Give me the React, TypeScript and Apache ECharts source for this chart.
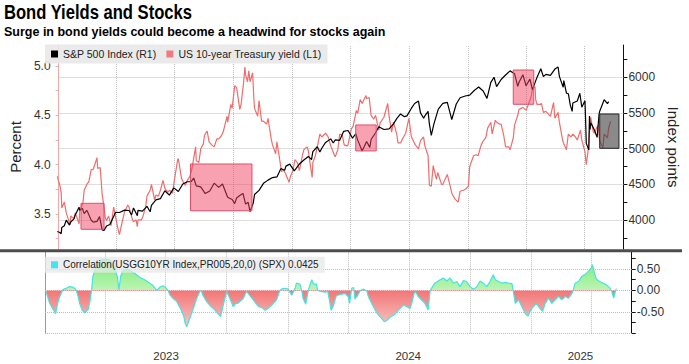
import React, { useEffect, useRef } from 'react';
import * as echarts from 'echarts';

// S&P 500 Index (right axis, index points)
const spx: [string, number][] = [
  ['2022-12-30', 3839], ['2023-01-03', 3824], ['2023-01-05', 3808], ['2023-01-06', 3895], ['2023-01-10', 3919],
  ['2023-01-13', 3999], ['2023-01-18', 3929], ['2023-01-20', 3972], ['2023-01-25', 4016], ['2023-01-27', 4070],
  ['2023-02-02', 4180], ['2023-02-03', 4136], ['2023-02-07', 4164], ['2023-02-10', 4090], ['2023-02-14', 4136],
  ['2023-02-17', 4079], ['2023-02-21', 3997], ['2023-02-24', 3970], ['2023-03-02', 3981], ['2023-03-06', 4048],
  ['2023-03-10', 3862], ['2023-03-13', 3855], ['2023-03-17', 3917], ['2023-03-22', 3937], ['2023-03-24', 3971],
  ['2023-03-31', 4109], ['2023-04-06', 4105], ['2023-04-14', 4138], ['2023-04-21', 4133], ['2023-04-25', 4071],
  ['2023-04-28', 4169], ['2023-05-04', 4061], ['2023-05-05', 4136], ['2023-05-12', 4124], ['2023-05-19', 4192],
  ['2023-05-24', 4115], ['2023-05-26', 4205], ['2023-06-02', 4282], ['2023-06-09', 4299], ['2023-06-16', 4410],
  ['2023-06-23', 4348], ['2023-06-30', 4450], ['2023-07-07', 4399], ['2023-07-14', 4505], ['2023-07-21', 4536],
  ['2023-07-27', 4537], ['2023-07-31', 4589], ['2023-08-04', 4478], ['2023-08-11', 4464], ['2023-08-18', 4370],
  ['2023-08-25', 4406], ['2023-09-01', 4516], ['2023-09-08', 4457], ['2023-09-14', 4505], ['2023-09-22', 4320],
  ['2023-09-29', 4288], ['2023-10-03', 4229], ['2023-10-06', 4309], ['2023-10-12', 4349], ['2023-10-16', 4373],
  ['2023-10-20', 4224], ['2023-10-24', 4248], ['2023-10-27', 4117], ['2023-11-01', 4238], ['2023-11-03', 4358],
  ['2023-11-10', 4415], ['2023-11-17', 4514], ['2023-11-24', 4559], ['2023-12-01', 4595], ['2023-12-08', 4604],
  ['2023-12-14', 4720], ['2023-12-20', 4698], ['2023-12-22', 4755], ['2023-12-28', 4783], ['2024-01-04', 4688],
  ['2024-01-12', 4784], ['2024-01-19', 4840], ['2024-01-26', 4891], ['2024-01-31', 4846], ['2024-02-02', 4959],
  ['2024-02-09', 5027], ['2024-02-13', 4953], ['2024-02-16', 5006], ['2024-02-22', 5087], ['2024-03-01', 5137],
  ['2024-03-05', 5079], ['2024-03-08', 5124], ['2024-03-15', 5117], ['2024-03-21', 5241], ['2024-03-28', 5254],
  ['2024-04-04', 5147], ['2024-04-09', 5209], ['2024-04-12', 5123], ['2024-04-19', 4967], ['2024-04-26', 5100],
  ['2024-05-01', 5018], ['2024-05-03', 5128], ['2024-05-10', 5223], ['2024-05-15', 5308], ['2024-05-23', 5268],
  ['2024-05-31', 5278], ['2024-06-07', 5347], ['2024-06-12', 5421], ['2024-06-18', 5487], ['2024-06-24', 5448],
  ['2024-06-28', 5460], ['2024-07-05', 5567], ['2024-07-10', 5633], ['2024-07-16', 5667], ['2024-07-19', 5505],
  ['2024-07-24', 5427], ['2024-07-26', 5459], ['2024-07-31', 5522], ['2024-08-02', 5346], ['2024-08-05', 5186],
  ['2024-08-09', 5344], ['2024-08-16', 5554], ['2024-08-23', 5634], ['2024-08-30', 5648], ['2024-09-06', 5408],
  ['2024-09-13', 5626], ['2024-09-19', 5713], ['2024-09-27', 5738], ['2024-10-04', 5751], ['2024-10-11', 5815],
  ['2024-10-18', 5865], ['2024-10-25', 5808], ['2024-10-31', 5705], ['2024-11-06', 5929], ['2024-11-11', 6001],
  ['2024-11-15', 5870], ['2024-11-22', 5969], ['2024-11-29', 6032], ['2024-12-06', 6090], ['2024-12-13', 6051],
  ['2024-12-18', 5872], ['2024-12-20', 5931], ['2024-12-26', 6037], ['2024-12-31', 5882], ['2025-01-06', 5975],
  ['2025-01-10', 5827], ['2025-01-15', 5950], ['2025-01-17', 5997], ['2025-01-23', 6119], ['2025-01-27', 6012],
  ['2025-01-31', 6041], ['2025-02-07', 6026], ['2025-02-14', 6115], ['2025-02-19', 6144], ['2025-02-21', 6013],
  ['2025-02-27', 5861], ['2025-02-28', 5955], ['2025-03-04', 5778], ['2025-03-07', 5770], ['2025-03-10', 5614],
  ['2025-03-13', 5522], ['2025-03-14', 5639], ['2025-03-21', 5668], ['2025-03-25', 5777], ['2025-03-28', 5581],
  ['2025-04-02', 5671], ['2025-04-03', 5397], ['2025-04-04', 5074], ['2025-04-08', 4983], ['2025-04-09', 5457],
  ['2025-04-10', 5268], ['2025-04-11', 5363], ['2025-04-16', 5276], ['2025-04-21', 5158], ['2025-04-24', 5485],
  ['2025-04-25', 5525], ['2025-05-02', 5686], ['2025-05-07', 5631], ['2025-05-09', 5660],
];

// US 10-year Treasury yield (left axis, percent)
const ust10y: [string, number][] = [
  ['2022-12-30', 3.88], ['2023-01-03', 3.79], ['2023-01-05', 3.72], ['2023-01-06', 3.56], ['2023-01-10', 3.62],
  ['2023-01-13', 3.51], ['2023-01-19', 3.39], ['2023-01-20', 3.48], ['2023-01-25', 3.45], ['2023-01-27', 3.51],
  ['2023-02-02', 3.40], ['2023-02-03', 3.53], ['2023-02-08', 3.61], ['2023-02-10', 3.74], ['2023-02-15', 3.81],
  ['2023-02-17', 3.82], ['2023-02-21', 3.95], ['2023-02-24', 3.95], ['2023-03-02', 4.07], ['2023-03-03', 3.96],
  ['2023-03-07', 3.97], ['2023-03-10', 3.70], ['2023-03-13', 3.57], ['2023-03-15', 3.46], ['2023-03-17', 3.43],
  ['2023-03-20', 3.48], ['2023-03-24', 3.38], ['2023-03-28', 3.57], ['2023-03-31', 3.47], ['2023-04-04', 3.34],
  ['2023-04-06', 3.29], ['2023-04-10', 3.41], ['2023-04-14', 3.52], ['2023-04-19', 3.59], ['2023-04-21', 3.57],
  ['2023-04-26', 3.45], ['2023-04-28', 3.42], ['2023-05-02', 3.44], ['2023-05-04', 3.37], ['2023-05-05', 3.44],
  ['2023-05-10', 3.44], ['2023-05-12', 3.46], ['2023-05-17', 3.57], ['2023-05-19', 3.68], ['2023-05-24', 3.74],
  ['2023-05-26', 3.80], ['2023-05-31', 3.64], ['2023-06-02', 3.69], ['2023-06-06', 3.68], ['2023-06-09', 3.74],
  ['2023-06-13', 3.84], ['2023-06-16', 3.76], ['2023-06-21', 3.72], ['2023-06-23', 3.74], ['2023-06-28', 3.71],
  ['2023-06-30', 3.81], ['2023-07-06', 4.05], ['2023-07-07', 4.06], ['2023-07-12', 3.86], ['2023-07-14', 3.83],
  ['2023-07-18', 3.79], ['2023-07-21', 3.84], ['2023-07-25', 3.88], ['2023-07-28', 3.95], ['2023-08-03', 4.18],
  ['2023-08-04', 4.04], ['2023-08-08', 4.02], ['2023-08-11', 4.16], ['2023-08-15', 4.21], ['2023-08-17', 4.30],
  ['2023-08-21', 4.34], ['2023-08-24', 4.23], ['2023-08-28', 4.20], ['2023-09-01', 4.18], ['2023-09-05', 4.26],
  ['2023-09-08', 4.26], ['2023-09-12', 4.29], ['2023-09-15', 4.33], ['2023-09-21', 4.49], ['2023-09-22', 4.43],
  ['2023-09-27', 4.61], ['2023-09-29', 4.57], ['2023-10-03', 4.80], ['2023-10-06', 4.78], ['2023-10-11', 4.56],
  ['2023-10-13', 4.61], ['2023-10-17', 4.84], ['2023-10-19', 4.99], ['2023-10-20', 4.91], ['2023-10-23', 4.84],
  ['2023-10-25', 4.95], ['2023-10-27', 4.84], ['2023-10-31', 4.93], ['2023-11-02', 4.66], ['2023-11-03', 4.57],
  ['2023-11-08', 4.49], ['2023-11-10', 4.65], ['2023-11-14', 4.44], ['2023-11-17', 4.44], ['2023-11-22', 4.41],
  ['2023-11-24', 4.47], ['2023-11-29', 4.26], ['2023-12-01', 4.20], ['2023-12-06', 4.11], ['2023-12-08', 4.23],
  ['2023-12-13', 4.02], ['2023-12-15', 3.93], ['2023-12-19', 3.94], ['2023-12-22', 3.90], ['2023-12-27', 3.82],
  ['2023-12-29', 3.88], ['2024-01-02', 3.94], ['2024-01-05', 4.05], ['2024-01-09', 4.02], ['2024-01-12', 3.94],
  ['2024-01-17', 4.10], ['2024-01-19', 4.15], ['2024-01-24', 4.18], ['2024-01-26', 4.14], ['2024-01-31', 3.91],
  ['2024-02-01', 3.87], ['2024-02-02', 4.02], ['2024-02-06', 4.09], ['2024-02-09', 4.18], ['2024-02-13', 4.31],
  ['2024-02-16', 4.28], ['2024-02-22', 4.32], ['2024-02-26', 4.28], ['2024-03-01', 4.19], ['2024-03-07', 4.09],
  ['2024-03-08', 4.08], ['2024-03-12', 4.15], ['2024-03-15', 4.31], ['2024-03-19', 4.30], ['2024-03-22', 4.20],
  ['2024-03-27', 4.19], ['2024-03-28', 4.20], ['2024-04-02', 4.36], ['2024-04-05', 4.39], ['2024-04-10', 4.55],
  ['2024-04-12', 4.52], ['2024-04-16', 4.66], ['2024-04-19', 4.62], ['2024-04-25', 4.70], ['2024-04-26', 4.67],
  ['2024-04-30', 4.68], ['2024-05-03', 4.50], ['2024-05-07', 4.46], ['2024-05-10', 4.50], ['2024-05-15', 4.35],
  ['2024-05-17', 4.42], ['2024-05-23', 4.48], ['2024-05-29', 4.62], ['2024-05-31', 4.50], ['2024-06-04', 4.33],
  ['2024-06-07', 4.43], ['2024-06-12', 4.31], ['2024-06-14', 4.22], ['2024-06-18', 4.22], ['2024-06-21', 4.26],
  ['2024-06-26', 4.32], ['2024-07-01', 4.47], ['2024-07-05', 4.28], ['2024-07-11', 4.20], ['2024-07-16', 4.16],
  ['2024-07-19', 4.24], ['2024-07-24', 4.28], ['2024-07-26', 4.19], ['2024-07-31', 4.09], ['2024-08-02', 3.79],
  ['2024-08-05', 3.78], ['2024-08-08', 3.99], ['2024-08-13', 3.85], ['2024-08-15', 3.92], ['2024-08-21', 3.80],
  ['2024-08-23', 3.80], ['2024-08-30', 3.90], ['2024-09-04', 3.77], ['2024-09-06', 3.71], ['2024-09-11', 3.65],
  ['2024-09-16', 3.62], ['2024-09-19', 3.73], ['2024-09-24', 3.74], ['2024-09-27', 3.75], ['2024-10-02', 3.78],
  ['2024-10-04', 3.98], ['2024-10-10', 4.09], ['2024-10-14', 4.10], ['2024-10-17', 4.09], ['2024-10-22', 4.20],
  ['2024-10-25', 4.24], ['2024-10-29', 4.27], ['2024-11-01', 4.37], ['2024-11-06', 4.43], ['2024-11-08', 4.31],
  ['2024-11-13', 4.45], ['2024-11-15', 4.43], ['2024-11-20', 4.41], ['2024-11-22', 4.41], ['2024-11-26', 4.30],
  ['2024-11-29', 4.18], ['2024-12-04', 4.18], ['2024-12-06', 4.15], ['2024-12-11', 4.27], ['2024-12-13', 4.40],
  ['2024-12-18', 4.50], ['2024-12-20', 4.56], ['2024-12-26', 4.58], ['2024-12-31', 4.55], ['2025-01-03', 4.60],
  ['2025-01-08', 4.69], ['2025-01-10', 4.77], ['2025-01-14', 4.79], ['2025-01-15', 4.66], ['2025-01-17', 4.61],
  ['2025-01-22', 4.61], ['2025-01-24', 4.62], ['2025-01-27', 4.53], ['2025-01-31', 4.54], ['2025-02-04', 4.51],
  ['2025-02-07', 4.49], ['2025-02-12', 4.63], ['2025-02-14', 4.47], ['2025-02-19', 4.53], ['2025-02-21', 4.43],
  ['2025-02-26', 4.25], ['2025-02-28', 4.21], ['2025-03-04', 4.15], ['2025-03-07', 4.31], ['2025-03-11', 4.28],
  ['2025-03-14', 4.31], ['2025-03-18', 4.28], ['2025-03-21', 4.25], ['2025-03-26', 4.35], ['2025-03-28', 4.25],
  ['2025-04-02', 4.13], ['2025-04-04', 4.00], ['2025-04-07', 4.15], ['2025-04-09', 4.34], ['2025-04-11', 4.48],
  ['2025-04-15', 4.33], ['2025-04-17', 4.32], ['2025-04-22', 4.40], ['2025-04-25', 4.24], ['2025-04-30', 4.17],
  ['2025-05-02', 4.31], ['2025-05-07', 4.27], ['2025-05-09', 4.37], ['2025-05-12', 4.44],
];

// 20-day correlation (bottom panel)
const correlation: [string, number][] = [
  ['2023-01-03', -0.05], ['2023-01-08', -0.30], ['2023-01-13', -0.44], ['2023-01-17', -0.54], ['2023-01-20', -0.30],
  ['2023-01-23', -0.15], ['2023-01-26', -0.05], ['2023-01-28', 0.02], ['2023-02-02', 0.05], ['2023-02-07', 0.09],
  ['2023-02-12', 0.08], ['2023-02-16', 0.03], ['2023-02-17', 0.0], ['2023-02-20', -0.15], ['2023-02-22', -0.30],
  ['2023-02-26', -0.46], ['2023-03-02', -0.52], ['2023-03-07', -0.44], ['2023-03-09', -0.30], ['2023-03-12', 0.0],
  ['2023-03-14', 0.33], ['2023-03-17', 0.48], ['2023-03-22', 0.62], ['2023-03-26', 0.72], ['2023-04-03', 0.74],
  ['2023-04-10', 0.70], ['2023-04-16', 0.55], ['2023-04-20', 0.30], ['2023-04-22', 0.02], ['2023-04-25', 0.35],
  ['2023-04-28', 0.46], ['2023-05-04', 0.50], ['2023-05-10', 0.45], ['2023-05-16', 0.40], ['2023-05-24', 0.30],
  ['2023-05-31', 0.25], ['2023-06-08', 0.16], ['2023-06-12', 0.12], ['2023-06-18', 0.0], ['2023-06-23', 0.08],
  ['2023-06-28', 0.11], ['2023-07-02', 0.05], ['2023-07-05', 0.0], ['2023-07-08', -0.11], ['2023-07-12', -0.18],
  ['2023-07-18', -0.26], ['2023-07-21', -0.35], ['2023-07-25', -0.46], ['2023-07-29', -0.62], ['2023-07-30', -0.73],
  ['2023-08-02', -0.85], ['2023-08-06', -0.68], ['2023-08-12', -0.42], ['2023-08-17', -0.19], ['2023-08-22', -0.02],
  ['2023-08-24', 0.0], ['2023-08-26', -0.10], ['2023-09-01', -0.26], ['2023-09-06', -0.35], ['2023-09-11', -0.42],
  ['2023-09-18', -0.54], ['2023-09-22', -0.61], ['2023-09-26', -0.34], ['2023-10-01', -0.02], ['2023-10-06', -0.19],
  ['2023-10-11', -0.38], ['2023-10-15', -0.30], ['2023-10-18', -0.30], ['2023-10-26', -0.19], ['2023-10-31', -0.02],
  ['2023-11-05', -0.12], ['2023-11-10', -0.22], ['2023-11-18', -0.38], ['2023-11-23', -0.40], ['2023-11-28', -0.46],
  ['2023-12-02', -0.42], ['2023-12-08', -0.34], ['2023-12-15', -0.22], ['2023-12-20', 0.0], ['2023-12-25', 0.05],
  ['2024-01-01', 0.04], ['2024-01-07', -0.11], ['2024-01-12', 0.05], ['2024-01-14', 0.17], ['2024-01-19', 0.15],
  ['2024-01-22', 0.0], ['2024-01-24', -0.19], ['2024-01-28', -0.32], ['2024-02-01', 0.02], ['2024-02-06', 0.25],
  ['2024-02-09', 0.15], ['2024-02-13', 0.15], ['2024-02-15', 0.0], ['2024-02-19', -0.02], ['2024-02-26', -0.04],
  ['2024-03-01', -0.02], ['2024-03-04', -0.26], ['2024-03-06', -0.46], ['2024-03-09', -0.38], ['2024-03-14', -0.12],
  ['2024-03-19', -0.10], ['2024-03-27', -0.07], ['2024-04-01', -0.15], ['2024-04-03', -0.30], ['2024-04-06', 0.05],
  ['2024-04-09', 0.07], ['2024-04-11', -0.20], ['2024-04-14', -0.14], ['2024-04-19', 0.0], ['2024-04-24', 0.03],
  ['2024-04-29', -0.02], ['2024-05-01', -0.14], ['2024-05-06', -0.30], ['2024-05-11', -0.45], ['2024-05-16', -0.57],
  ['2024-05-21', -0.65], ['2024-05-25', -0.73], ['2024-05-29', -0.70], ['2024-06-03', -0.62], ['2024-06-08', -0.58],
  ['2024-06-13', -0.50], ['2024-06-18', -0.42], ['2024-06-23', -0.34], ['2024-06-28', -0.38], ['2024-07-03', -0.42],
  ['2024-07-06', -0.26], ['2024-07-09', -0.06], ['2024-07-11', -0.03], ['2024-07-15', -0.14], ['2024-07-20', -0.22],
  ['2024-07-25', -0.30], ['2024-07-30', -0.45], ['2024-08-02', 0.0], ['2024-08-04', 0.05], ['2024-08-09', 0.17],
  ['2024-08-17', 0.25], ['2024-08-22', 0.29], ['2024-08-27', 0.22], ['2024-09-01', 0.29], ['2024-09-06', 0.17],
  ['2024-09-11', 0.21], ['2024-09-16', 0.09], ['2024-09-21', 0.23], ['2024-09-26', 0.21], ['2024-10-01', 0.09],
  ['2024-10-06', 0.03], ['2024-10-11', 0.08], ['2024-10-16', 0.22], ['2024-10-21', 0.17], ['2024-10-26', 0.09],
  ['2024-10-31', 0.21], ['2024-11-05', 0.37], ['2024-11-08', 0.25], ['2024-11-13', 0.21], ['2024-11-18', 0.17],
  ['2024-11-23', 0.19], ['2024-11-28', 0.17], ['2024-12-03', 0.16], ['2024-12-05', -0.02], ['2024-12-08', -0.30],
  ['2024-12-13', -0.22], ['2024-12-18', -0.38], ['2024-12-23', -0.54], ['2024-12-27', -0.60], ['2024-12-31', -0.46],
  ['2025-01-04', -0.38], ['2025-01-09', -0.30], ['2025-01-14', -0.42], ['2025-01-18', -0.49], ['2025-01-22', -0.30],
  ['2025-01-27', -0.18], ['2025-02-01', -0.30], ['2025-02-06', -0.22], ['2025-02-11', -0.14], ['2025-02-16', -0.22],
  ['2025-02-21', -0.14], ['2025-02-26', -0.18], ['2025-03-02', -0.10], ['2025-03-05', 0.0], ['2025-03-08', 0.17],
  ['2025-03-13', 0.21], ['2025-03-18', 0.33], ['2025-03-23', 0.37], ['2025-03-28', 0.45], ['2025-04-01', 0.52],
  ['2025-04-03', 0.60], ['2025-04-06', 0.41], ['2025-04-09', 0.26], ['2025-04-14', 0.21], ['2025-04-19', 0.17],
  ['2025-04-24', 0.13], ['2025-04-29', 0.06], ['2025-05-02', -0.02], ['2025-05-05', -0.18], ['2025-05-07', -0.05],
  ['2025-05-09', 0.0425],
];

// Highlight boxes drawn on the S&P scale
const boxes = [
  { from: '2023-02-05', to: '2023-03-13', low: 3870, high: 4234, tone: 'pink' },
  { from: '2023-07-26', to: '2023-10-30', low: 4130, high: 4785, tone: 'pink' },
  { from: '2024-04-09', to: '2024-05-11', low: 4968, high: 5332, tone: 'pink' },
  { from: '2024-12-11', to: '2025-01-12', low: 5622, high: 6102, tone: 'pink' },
  { from: '2025-04-25', to: '2025-05-25', low: 5005, high: 5486, tone: 'gray' },
];

const quarterLines = ['2023-04-01', '2023-07-01', '2023-10-01', '2024-01-01', '2024-04-01', '2024-07-01', '2024-10-01', '2025-01-01', '2025-04-01'];
const yearLabels = [
  { at: '2023-07-02', text: '2023' },
  { at: '2024-06-30', text: '2024' },
  { at: '2025-03-16', text: '2025' },
];
const yieldTicks = [3.25, 3.5, 3.75, 4, 4.25, 4.5, 4.75, 5];
const yieldLabels = [3.5, 4, 4.5, 5];
const spxTicks = [3750, 4000, 4250, 4500, 4750, 5000, 5250, 5500, 5750, 6000, 6250];
const spxLabels = [4000, 4500, 5000, 5500, 6000];
const corrTicks = [-1, -0.75, -0.5, -0.25, 0, 0.25, 0.5, 0.75];
const corrLabels = [-0.5, 0, 0.5];
const corrGridLines = [-1, -0.5, 0, 0.5];

const SPX_NAME = 'S&P 500 Index (R1)';
const UST_NAME = 'US 10-year Treasury yield (L1)';
const CORR_NAME = 'Correlation(USGG10YR Index,PR005,20,0) (SPX) 0.0425';

const FONT = '"Liberation Sans", Arial, sans-serif';

const ts = (s: string) => new Date(s + 'T00:00:00').getTime();
const toPoints = (rows: [string, number][]) => rows.map(([d, v]) => [ts(d), v]);

const X_MIN = ts('2023-01-01');
const X_MAX = ts('2025-06-01');

export default function App() {
  const ref = useRef<HTMLDivElement>(null);

  useEffect(() => {
    document.body.style.margin = '0';
    if (!ref.current) return;
    const chart = echarts.init(ref.current, undefined, { renderer: 'svg' });

    const gridLine = { color: '#bdbdbd', type: 'dotted' as const, width: 1 };
    const markGrid = (items: any[]) => ({
      silent: true,
      symbol: ['none', 'none'],
      z: 1,
      label: { show: false },
      emphasis: { disabled: true },
      lineStyle: gridLine,
      data: items,
    });

    const option: any = {
      animation: false,
      backgroundColor: '#fff',
      textStyle: { fontFamily: FONT },
      graphic: [
        {
          type: 'text', x: 4, y: 12, z: 10, scaleX: 0.83,
          style: { text: 'Bond Yields and Stocks', fontFamily: FONT, fontSize: 20, fontWeight: 'bold', fill: '#000', verticalAlign: 'middle' },
        },
        {
          type: 'text', x: 4, y: 31.5, z: 10,
          style: { text: 'Surge in bond yields could become a headwind for stocks again', fontFamily: FONT, fontSize: 12.5, fontWeight: 'bold', fill: '#000', verticalAlign: 'middle' },
        },
        {
          type: 'rect', z: 10, silent: true,
          shape: { x: 0, y: 249.3, width: 682, height: 3 },
          style: { fill: '#4d4d4d' },
        },
      ],
      legend: [
        {
          data: [SPX_NAME, UST_NAME],
          left: 45, top: 44.5, orient: 'horizontal',
          backgroundColor: 'rgba(232,232,232,0.92)',
          padding: [4, 6, 4, 6], itemGap: 10, itemWidth: 7, itemHeight: 7,
          icon: 'rect', selectedMode: false,
          textStyle: { fontFamily: FONT, fontSize: 10.5, color: '#222' },
        },
        {
          data: [CORR_NAME],
          left: 45, top: 256.8, orient: 'horizontal',
          backgroundColor: 'rgba(232,232,232,0.75)',
          padding: [3, 6, 3, 6], itemWidth: 7, itemHeight: 7,
          icon: 'rect', selectedMode: false,
          textStyle: { fontFamily: FONT, fontSize: 10, color: '#222' },
        },
      ],
      grid: [
        { left: 45, right: 57.3, top: 45, height: 204 },
        { left: 45, right: 57.3, top: 251.9, height: 81.4 },
      ],
      xAxis: [
        {
          type: 'value', gridIndex: 0, min: X_MIN, max: X_MAX,
          axisLine: { show: false }, axisTick: { show: false }, axisLabel: { show: false }, splitLine: { show: false },
        },
        {
          type: 'value', gridIndex: 1, min: X_MIN, max: X_MAX,
          axisLine: { show: false }, axisTick: { show: false }, splitLine: { show: false },
          axisLabel: {
            customValues: yearLabels.map((y) => ts(y.at)),
            formatter: (v: number) => {
              const hit = yearLabels.find((y) => Math.abs(ts(y.at) - v) < 86400000 * 2);
              return hit ? hit.text : '';
            },
            margin: 17, fontSize: 11.5, color: '#333', fontFamily: FONT,
          },
        },
      ],
      yAxis: [
        {
          type: 'value', gridIndex: 0, position: 'left', min: 3.144, max: 5.213,
          axisLine: { show: true, lineStyle: { color: '#f3a7a7', width: 1 } },
          axisTick: { show: true, customValues: yieldTicks, length: 3, lineStyle: { color: '#f3a7a7' } },
          axisLabel: { customValues: yieldLabels, formatter: (v: number) => v.toFixed(1), color: '#333', fontSize: 12, margin: 8, fontFamily: FONT },
          splitLine: { show: false },
          name: 'Percent', nameLocation: 'middle', nameGap: 35, nameRotate: 90,
          nameTextStyle: { fontSize: 15, color: '#222', fontFamily: FONT },
        },
        {
          type: 'value', gridIndex: 0, position: 'right', min: 3593.6, max: 6452.7,
          axisLine: { show: true, lineStyle: { color: '#111', width: 1 } },
          axisTick: { show: true, customValues: spxTicks, length: 4, lineStyle: { color: '#111' } },
          axisLabel: { customValues: spxLabels, formatter: (v: number) => String(Math.round(v)), color: '#333', fontSize: 12, margin: 5, fontFamily: FONT },
          splitLine: { show: false },
          name: 'Index points', nameLocation: 'middle', nameGap: 37, nameRotate: -90,
          nameTextStyle: { fontSize: 15, color: '#222', fontFamily: FONT },
        },
        {
          type: 'value', gridIndex: 1, position: 'right', min: -1, max: 0.9,
          axisLine: { show: true, lineStyle: { color: '#111', width: 1 } },
          axisTick: { show: true, customValues: corrTicks, length: 4, lineStyle: { color: '#111' } },
          axisLabel: { customValues: corrLabels, formatter: (v: number) => v.toFixed(2), color: '#333', fontSize: 12, margin: 5, fontFamily: FONT },
          splitLine: { show: false },
        },
        {
          type: 'value', gridIndex: 1, position: 'left', min: -1, max: 0.9,
          axisLine: { show: true, lineStyle: { color: '#9a9a9a', width: 1 } },
          axisTick: { show: false }, axisLabel: { show: false }, splitLine: { show: false },
        },
      ],
      series: [
        {
          name: SPX_NAME, type: 'line', xAxisIndex: 0, yAxisIndex: 1,
          data: toPoints(spx), symbol: 'none', showSymbol: false, z: 3,
          lineStyle: { color: '#000', width: 1.2 }, itemStyle: { color: '#000' },
          markLine: markGrid(spxLabels.map((v) => ({ yAxis: v }))),
          markArea: {
            silent: true, z: 6,
            emphasis: { disabled: true },
            data: boxes.map((b) => [
              {
                xAxis: ts(b.from), yAxis: b.high,
                itemStyle: b.tone === 'pink'
                  ? { color: 'rgba(241,70,100,0.5)', borderColor: '#de4f6c', borderWidth: 1 }
                  : { color: 'rgba(60,60,60,0.6)', borderColor: '#222', borderWidth: 1 },
              },
              { xAxis: ts(b.to), yAxis: b.low },
            ]),
          },
        },
        {
          name: UST_NAME, type: 'line', xAxisIndex: 0, yAxisIndex: 0,
          data: toPoints(ust10y), symbol: 'none', showSymbol: false, z: 2,
          lineStyle: { color: '#ee6d6d', width: 1.2 }, itemStyle: { color: '#f07a84' },
          markLine: markGrid(quarterLines.map((d) => ({ xAxis: ts(d) }))),
        },
        {
          name: CORR_NAME, type: 'line', xAxisIndex: 1, yAxisIndex: 2,
          data: toPoints(correlation), symbol: 'none', showSymbol: false, z: 3,
          lineStyle: { color: '#45e3e3', width: 1.2 }, itemStyle: { color: '#45e3ee' },
          areaStyle: {
            opacity: 1,
            color: new echarts.graphic.LinearGradient(0, 251.9, 0, 333.3, [
              { offset: 0, color: '#6ae86a' },
              { offset: 0.473, color: '#bcf5b4' },
              { offset: 0.474, color: '#f27676' },
              { offset: 1, color: '#f9d4d4' },
            ], true),
          },
          markLine: markGrid([
            ...corrGridLines.map((v) => ({ yAxis: v })),
            ...quarterLines.map((d) => ({ xAxis: ts(d) })),
          ]),
        },
      ],
    };

    chart.setOption(option);
    return () => chart.dispose();
  }, []);

  return <div ref={ref} style={{ width: 689, height: 364 }} />;
}
